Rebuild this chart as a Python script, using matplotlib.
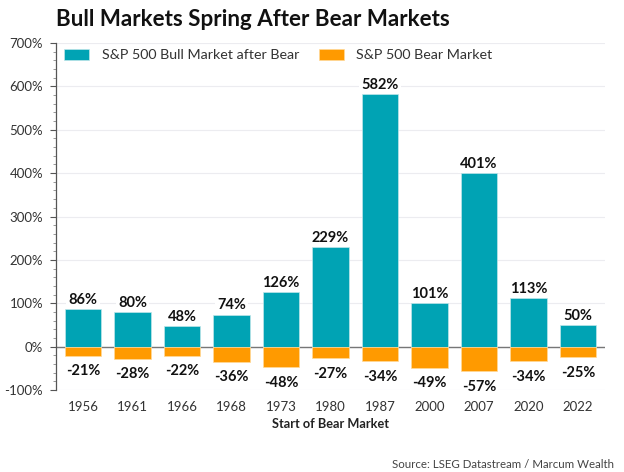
import matplotlib
matplotlib.use('Agg')
import numpy as np
import matplotlib.pyplot as plt
from matplotlib.ticker import MultipleLocator

years = ['1956', '1961', '1966', '1968', '1973', '1980', '1987', '2000', '2007', '2020', '2022']
bull = [86, 80, 48, 74, 126, 229, 582, 101, 401, 113, 50]
bear = [-21, -28, -22, -36, -48, -27, -34, -49, -57, -34, -25]
yticks = [-100, 0, 100, 200, 300, 400, 500, 600, 700]

plt.rcParams['font.family'] = ['Lato', 'DejaVu Sans']

fig = plt.figure(figsize=(6.24, 4.72), dpi=100)
ax = fig.add_axes([55.5 / 624, 1 - 390 / 472, (605 - 55.5) / 624, (390 - 43) / 472])

x = np.arange(len(years))
ax.bar(x, bull, width=0.73, color='#00a3b4', edgecolor='#bfe6ea', linewidth=0.5, label='S&P 500 Bull Market after Bear', zorder=2)
ax.bar(x, bear, width=0.73, color='#ff9a00', edgecolor='#ffd99a', linewidth=0.5, label='S&P 500 Bear Market', zorder=2)

# white box behind the labels so the gridlines break around them
box = dict(facecolor='white', edgecolor='none', pad=1.5)
for i in range(len(years)):
    ax.text(x[i], bull[i] + 21, str(bull[i]) + '%', ha='center', va='center', fontsize=10.5, fontweight='bold', color='#111111', bbox=box, zorder=3)
    ax.text(x[i], bear[i] - 35, str(bear[i]) + '%', ha='center', va='center', fontsize=10.5, fontweight='bold', color='#111111', bbox=box, zorder=3)

ax.set_xlim(-0.556, 10.545)
ax.set_ylim(-100, 700)
ax.set_yticks(yticks)
ax.set_yticklabels([str(t) + '%' for t in yticks], fontsize=9.5, color='#333333')
ax.yaxis.set_minor_locator(MultipleLocator(20))
ax.set_xticks(x)
ax.set_xticklabels(years, fontsize=9.5, color='#333333')
ax.tick_params(axis='x', length=0, pad=8)
ax.tick_params(axis='y', which='major', length=4, color='#555555', pad=5)
ax.tick_params(axis='y', which='minor', length=2, color='#888888')
ax.grid(axis='y', which='major', color='#ececf0', lw=0.8, zorder=0)
ax.set_axisbelow(True)
ax.axhline(0, color='#777777', lw=1, zorder=1)
for s in ['top', 'right', 'bottom']:
    ax.spines[s].set_visible(False)
ax.spines['left'].set_color('#555555')
ax.spines['left'].set_linewidth(0.9)
ax.set_xlabel('Start of Bear Market', fontsize=9.2, fontweight='bold', color='#222222')
ax.xaxis.set_label_coords((330 - 55.5) / 549.5, -0.08)

ax.legend(loc='upper left', ncol=2, frameon=False, fontsize=10.3, handlelength=1.75, handleheight=0.8,
          bbox_to_anchor=(3 / 549.5, 1.0), columnspacing=1.33, borderaxespad=0.2, borderpad=0.2,
          handletextpad=0.9, labelcolor='#333333')

fig.text(56 / 624, 1 - 20 / 472, 'Bull Markets Spring After Bear Markets', fontsize=16.1, fontweight='bold', va='center', color='#111111')
fig.text(614 / 624, 1 - 464 / 472, 'Source: LSEG Datastream / Marcum Wealth', fontsize=8.3, ha='right', va='center', color='#444444')

fig.savefig('out.png', dpi=100)
